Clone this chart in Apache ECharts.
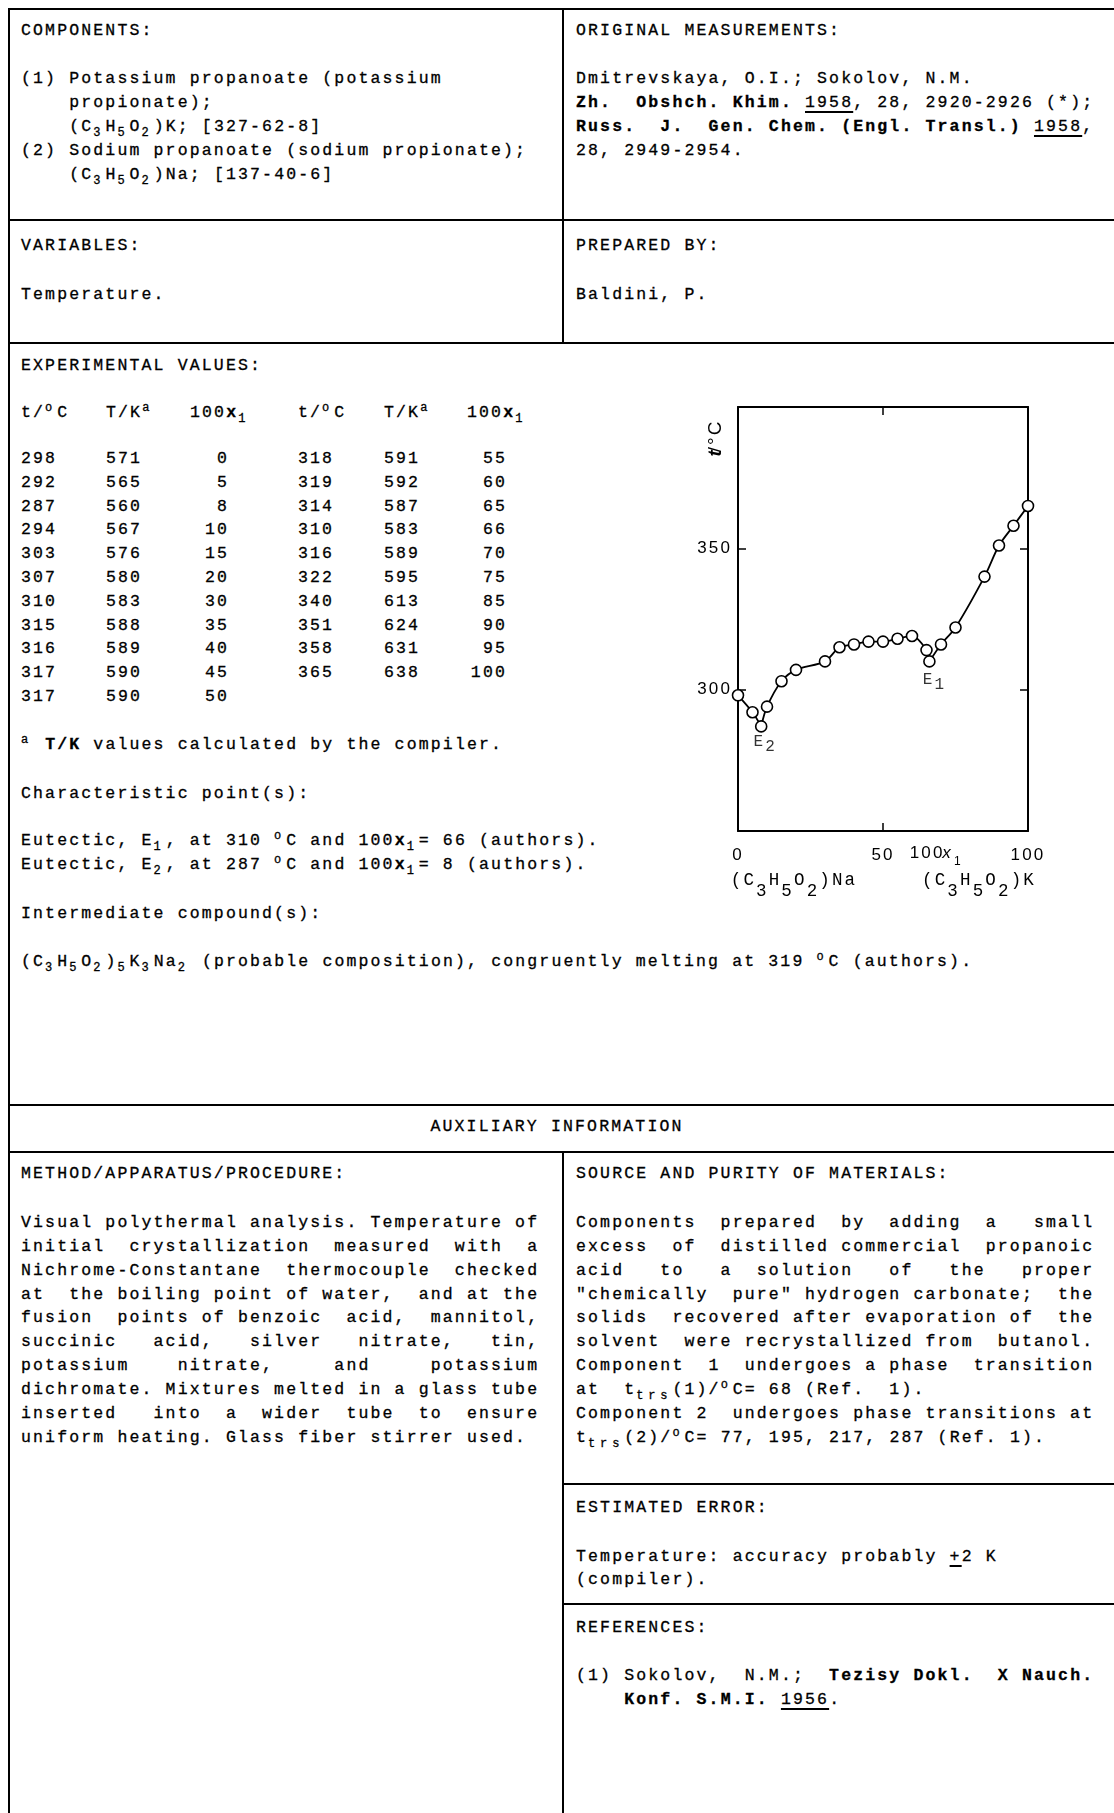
<!DOCTYPE html>
<html><head><meta charset="utf-8">
<script src="https://cdn.jsdelivr.net/npm/echarts@6/dist/echarts.min.js"></script>
<style>
html,body{margin:0;padding:0;background:#fff;}
body{width:1114px;height:1813px;position:relative;overflow:hidden;font-family:'Liberation Mono',monospace;font-size:16.5px;letter-spacing:2.15px;color:#000;-webkit-text-stroke:0.3px #000;}
.t{position:absolute;white-space:pre;line-height:24px;height:24px;}
.r{text-align:right;}
.hl{position:absolute;background:#000;height:2px;}
.vl{position:absolute;background:#000;width:2px;}
sub{font-size:12px;vertical-align:-5px;letter-spacing:4.85px;line-height:0;}
sup{font-size:12px;vertical-align:6px;letter-spacing:4.85px;line-height:0;}
u{text-decoration-thickness:1.5px;text-underline-offset:4px;}
#chart{position:absolute;left:620px;top:370px;width:494px;height:560px;}
</style></head>
<body>
<!-- frame lines -->
<div class="hl" style="left:8px;top:8px;width:1106px"></div>
<div class="vl" style="left:8px;top:8px;height:1805px"></div>
<div class="vl" style="left:562px;top:8px;height:335px"></div>
<div class="hl" style="left:8px;top:219px;width:1106px"></div>
<div class="hl" style="left:8px;top:342px;width:1106px"></div>
<div class="hl" style="left:8px;top:1104px;width:1106px"></div>
<div class="hl" style="left:8px;top:1151px;width:1106px"></div>
<div class="vl" style="left:562px;top:1151px;height:662px"></div>
<div class="hl" style="left:562px;top:1483px;width:552px"></div>
<div class="hl" style="left:562px;top:1603px;width:552px"></div>

<!-- components -->
<div class="t" style="left:21px;top:19px">COMPONENTS:</div>
<div class="t" style="left:21px;top:67px">(1) Potassium propanoate (potassium</div>
<div class="t" style="left:21px;top:91px">    propionate);</div>
<div class="t" style="left:21px;top:115px">    (C<sub>3</sub>H<sub>5</sub>O<sub>2</sub>)K; [327-62-8]</div>
<div class="t" style="left:21px;top:139px">(2) Sodium propanoate (sodium propionate);</div>
<div class="t" style="left:21px;top:163px">    (C<sub>3</sub>H<sub>5</sub>O<sub>2</sub>)Na; [137-40-6]</div>

<div class="t" style="left:576px;top:19px">ORIGINAL MEASUREMENTS:</div>
<div class="t" style="left:576px;top:67px">Dmitrevskaya, O.I.; Sokolov, N.M.</div>
<div class="t" style="left:576px;top:91px"><b>Zh.  Obshch. Khim.</b> <u>1958</u>, 28, 2920-2926 (*);</div>
<div class="t" style="left:576px;top:115px"><b>Russ.  J.  Gen. Chem. (Engl. Transl.)</b> <u>1958</u>,</div>
<div class="t" style="left:576px;top:139px">28, 2949-2954.</div>

<div class="t" style="left:21px;top:234px">VARIABLES:</div>
<div class="t" style="left:21px;top:283px">Temperature.</div>
<div class="t" style="left:576px;top:234px">PREPARED BY:</div>
<div class="t" style="left:576px;top:283px">Baldini, P.</div>

<div class="t" style="left:21px;top:354px">EXPERIMENTAL VALUES:</div>
<div id="table"></div>

<div class="t" style="left:21px;top:733px"><sup>a</sup> <b>T/K</b> values calculated by the compiler.</div>
<div class="t" style="left:21px;top:782px">Characteristic point(s):</div>
<div class="t" style="left:21px;top:829px">Eutectic, E<sub>1</sub>, at 310 <sup>o</sup>C and 100<b>x</b><sub>1</sub>= 66 (authors).</div>
<div class="t" style="left:21px;top:853px">Eutectic, E<sub>2</sub>, at 287 <sup>o</sup>C and 100<b>x</b><sub>1</sub>= 8 (authors).</div>
<div class="t" style="left:21px;top:902px">Intermediate compound(s):</div>
<div class="t" style="left:21px;top:950px">(C<sub>3</sub>H<sub>5</sub>O<sub>2</sub>)<sub>5</sub>K<sub>3</sub>Na<sub>2</sub> (probable composition), congruently melting at 319 <sup>o</sup>C (authors).</div>

<div class="t" style="left:0;top:1115px;width:1114px;text-align:center">AUXILIARY INFORMATION</div>

<div class="t" style="left:21px;top:1162px">METHOD/APPARATUS/PROCEDURE:</div>
<div class="t" style="left:21px;top:1211px">Visual polythermal analysis. Temperature of</div>
<div class="t" style="left:21px;top:1235px">initial  crystallization  measured  with  a</div>
<div class="t" style="left:21px;top:1259px">Nichrome-Constantane  thermocouple  checked</div>
<div class="t" style="left:21px;top:1283px">at  the boiling point of water,  and at the</div>
<div class="t" style="left:21px;top:1306px">fusion  points of benzoic  acid,  mannitol,</div>
<div class="t" style="left:21px;top:1330px">succinic   acid,   silver   nitrate,   tin,</div>
<div class="t" style="left:21px;top:1354px">potassium    nitrate,     and     potassium</div>
<div class="t" style="left:21px;top:1378px">dichromate. Mixtures melted in a glass tube</div>
<div class="t" style="left:21px;top:1402px">inserted   into  a  wider  tube  to  ensure</div>
<div class="t" style="left:21px;top:1426px">uniform heating. Glass fiber stirrer used.</div>

<div class="t" style="left:576px;top:1162px">SOURCE AND PURITY OF MATERIALS:</div>
<div class="t" style="left:576px;top:1211px">Components  prepared  by  adding  a   small</div>
<div class="t" style="left:576px;top:1235px">excess  of  distilled commercial  propanoic</div>
<div class="t" style="left:576px;top:1259px">acid   to   a  solution   of   the   proper</div>
<div class="t" style="left:576px;top:1283px">"chemically  pure" hydrogen carbonate;  the</div>
<div class="t" style="left:576px;top:1306px">solids  recovered after evaporation of  the</div>
<div class="t" style="left:576px;top:1330px">solvent  were recrystallized from  butanol.</div>
<div class="t" style="left:576px;top:1354px">Component  1  undergoes a phase  transition</div>
<div class="t" style="left:576px;top:1378px">at  t<sub>trs</sub>(1)/<sup>o</sup>C= 68 (Ref.  1).</div>
<div class="t" style="left:576px;top:1402px">Component 2  undergoes phase transitions at</div>
<div class="t" style="left:576px;top:1426px">t<sub>trs</sub>(2)/<sup>o</sup>C= 77, 195, 217, 287 (Ref. 1).</div>

<div class="t" style="left:576px;top:1496px">ESTIMATED ERROR:</div>
<div class="t" style="left:576px;top:1545px">Temperature: accuracy probably <u>+</u>2 K</div>
<div class="t" style="left:576px;top:1568px">(compiler).</div>

<div class="t" style="left:576px;top:1616px">REFERENCES:</div>
<div class="t" style="left:576px;top:1664px">(1) Sokolov,  N.M.;  <b>Tezisy Dokl.  X Nauch.</b></div>
<div class="t" style="left:576px;top:1688px">    <b>Konf. S.M.I.</b> <u>1956</u>.</div>

<div id="chart"></div>

<script>
// ---- data ----
const tC = [298, 292, 287, 294, 303, 307, 310, 315, 316, 317, 317, 318, 319, 314, 310, 316, 322, 340, 351, 358, 365];
const TK = [571, 565, 560, 567, 576, 580, 583, 588, 589, 590, 590, 591, 592, 587, 583, 589, 595, 613, 624, 631, 638];
const x1 = [0, 5, 8, 10, 15, 20, 30, 35, 40, 45, 50, 55, 60, 65, 66, 70, 75, 85, 90, 95, 100];
const eutecticNames = ['1', '2'];
const eutecticX = [66, 8];
const eutecticT = [310, 287];
const xTickLabels = [0, 50, 100];
const yTickLabels = [300, 350];
const headers = ['t/<sup>o</sup>C', 'T/K<sup>a</sup>', '100<b>x</b><sub>1</sub>'];

// ---- table (text) ----
const tbl = document.getElementById('table');
const rowsFirst = 11;
const colT = [21, 298], colK = [106, 384], colXr = [229, 507], colXh = [190, 467];
function put(html, left, top, right) {
  const d = document.createElement('div');
  d.className = 't' + (right ? ' r' : '');
  d.style.top = top + 'px';
  if (right) { d.style.left = (left - 100) + 'px'; d.style.width = '100px'; }
  else d.style.left = left + 'px';
  d.innerHTML = html;
  tbl.appendChild(d);
}
for (let g = 0; g < 2; g++) {
  put(headers[0], colT[g], 401);
  put(headers[1], colK[g], 401);
  put(headers[2], colXh[g], 401);
}
for (let i = 0; i < x1.length; i++) {
  const g = i < rowsFirst ? 0 : 1;
  const r = i < rowsFirst ? i : i - rowsFirst;
  const top = Math.round(447 + r * 23.8);
  put(String(tC[i]), colT[g], top);
  put(String(TK[i]), colK[g], top);
  put(String(x1[i]), colXr[g], top, true);
}

// ---- chart ----
const chart = echarts.init(document.getElementById('chart'), null, {renderer: 'canvas'});
const G = {left: 118, top: 37, width: 290, height: 424};
const pts = x1.map((x, i) => [x, tC[i]]);
const bounds = [x1[0]].concat(eutecticX.slice().sort((a, b) => a - b), [x1[x1.length - 1]]);
const segSeries = [];
for (let k = 0; k < bounds.length - 1; k++) {
  segSeries.push({
    type: 'line', data: pts.filter(p => p[0] >= bounds[k] && p[0] <= bounds[k + 1]),
    smooth: 0.3, symbol: 'none', lineStyle: {color: '#000', width: 1.8}, z: 2, silent: true
  });
}
const labOffsets = [[5, 21], [4, 18]];
const fam = 'Liberation Sans';
const mono = 'Liberation Mono';
const axisLineStyle = {color: '#000', width: 2};
const tickStyle = {show: true, inside: true, length: 8, lineStyle: {color: '#000', width: 1.5}};
// subscripted labels drawn as two overlapping lines: base letters, then lowered subscript characters in their own cells
const formula = (cat) => '(C H O )' + cat + '\n  3 5 2 ' + ' '.repeat(cat.length);

chart.setOption({
  animation: false,
  grid: {left: G.left, top: G.top, width: G.width, height: G.height},
  xAxis: [
    {type: 'value', min: 0, max: 100, interval: 50, position: 'bottom',
     axisLine: {show: true, onZero: false, lineStyle: axisLineStyle}, axisTick: tickStyle,
     axisLabel: {margin: 16, fontSize: 17, fontFamily: fam, color: '#000',
       formatter: v => xTickLabels.indexOf(v) >= 0 ? String(v) : ''},
     splitLine: {show: false}},
    {type: 'value', min: 0, max: 100, interval: 50, position: 'top',
     axisLine: {show: true, onZero: false, lineStyle: axisLineStyle}, axisTick: tickStyle,
     axisLabel: {show: false}, splitLine: {show: false}}
  ],
  yAxis: [
    {type: 'value', min: 250, max: 400, interval: 50, position: 'left',
     axisLine: {show: true, onZero: false, lineStyle: axisLineStyle}, axisTick: tickStyle,
     axisLabel: {margin: 6, fontSize: 17, fontFamily: fam, color: '#000',
       formatter: v => yTickLabels.indexOf(v) >= 0 ? String(v) : ''},
     splitLine: {show: false}},
    {type: 'value', min: 250, max: 400, interval: 50, position: 'right',
     axisLine: {show: true, onZero: false, lineStyle: axisLineStyle}, axisTick: tickStyle,
     axisLabel: {show: false}, splitLine: {show: false}}
  ],
  series: segSeries.concat([
    {type: 'scatter', data: pts, symbol: 'circle', symbolSize: 11, z: 3, silent: true,
     itemStyle: {color: '#fff', borderColor: '#000', borderWidth: 1.6, opacity: 1}},
    {type: 'scatter', symbol: 'circle', symbolSize: 1, z: 4, silent: true,
     itemStyle: {color: 'rgba(0,0,0,0)'},
     data: eutecticX.map((x, i) => ({value: [x, eutecticT[i]], name: eutecticNames[i],
       label: {offset: labOffsets[i]}})),
     label: {show: true, position: 'inside', fontSize: 16, fontFamily: mono, color: '#000',
       lineHeight: 5, align: 'center', verticalAlign: 'middle',
       formatter: p => 'E \n ' + p.name}}
  ]),
  graphic: [
    {type: 'text', x: 96, y: 69, rotation: Math.PI / 2, silent: true,
     style: {text: '{i|t}{n|/°C}', align: 'center', verticalAlign: 'middle', rich: {
       i: {fontSize: 19, fontFamily: fam, fontStyle: 'italic', fontWeight: 'bold', color: '#000'},
       n: {fontSize: 19, fontFamily: fam, color: '#000'}}}},
    {type: 'text', x: 333, y: 483, silent: true,
     style: {text: '{n|100}{i|x}', align: 'right', verticalAlign: 'middle', rich: {
       n: {fontSize: 17, fontFamily: fam, color: '#000'},
       i: {fontSize: 17, fontFamily: fam, fontStyle: 'italic', color: '#000'}}}},
    {type: 'text', x: 334, y: 492, silent: true,
     style: {text: '1', align: 'left', verticalAlign: 'middle', fontSize: 12, fontFamily: fam, fill: '#000'}},
    {type: 'text', x: 174, y: 516, silent: true,
     style: {text: formula('Na'), align: 'center', verticalAlign: 'middle',
       fontSize: 17.5, fontFamily: mono, lineHeight: 11, fill: '#000'}},
    {type: 'text', x: 359, y: 516, silent: true,
     style: {text: formula('K'), align: 'center', verticalAlign: 'middle',
       fontSize: 17.5, fontFamily: mono, lineHeight: 11, fill: '#000'}}
  ]
});
</script>
</body></html>
